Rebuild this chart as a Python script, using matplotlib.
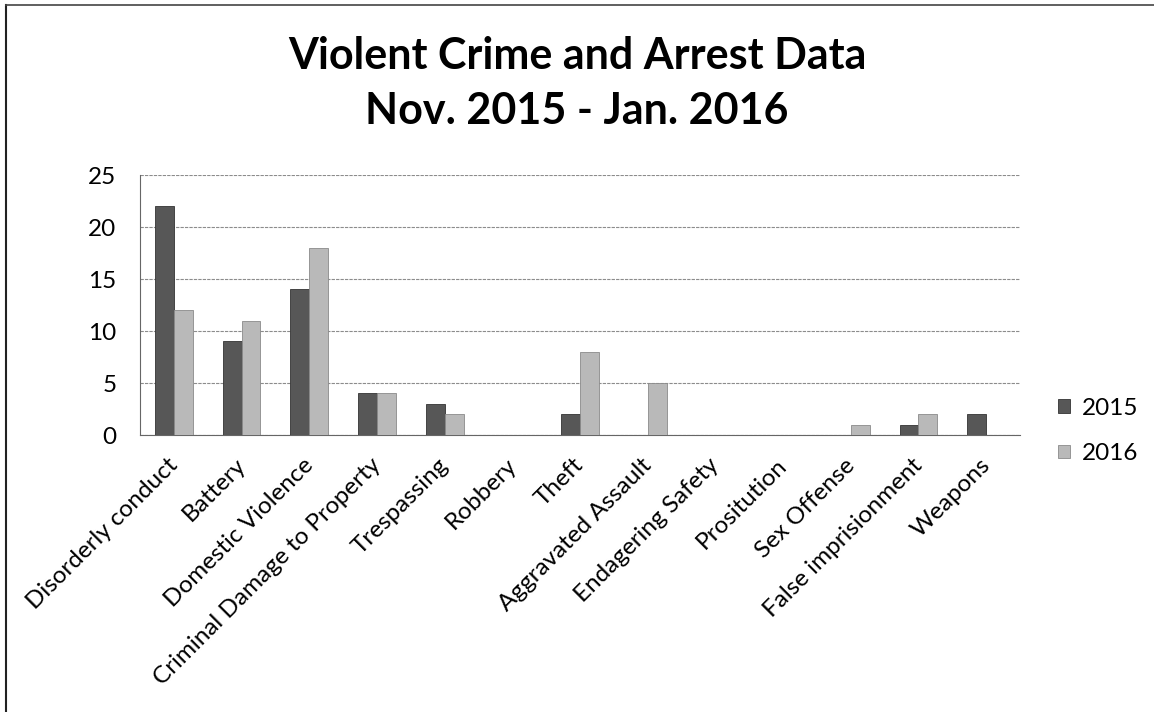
import matplotlib.pyplot as plt
from matplotlib.lines import Line2D
import matplotlib.transforms as mtransforms
import numpy as np

plt.rcParams['font.family'] = ['Lato', 'DejaVu Sans']

categories = ['Disorderly conduct', 'Battery', 'Domestic Violence',
              'Criminal Damage to Property', 'Trespassing', 'Robbery', 'Theft',
              'Aggravated Assault', 'Endagering Safety', 'Prositution',
              'Sex Offense', 'False imprisionment', 'Weapons']
vals_2015 = [22, 9, 14, 4, 3, 0, 2, 0, 0, 0, 0, 1, 2]
vals_2016 = [12, 11, 18, 4, 2, 0, 8, 5, 0, 0, 1, 2, 0]
yticks = [0, 5, 10, 15, 20, 25]

fig = plt.figure(figsize=(11.54, 7.12), dpi=100)
ax = fig.add_axes([140/1154, 1 - 435/712, 880/1154, 260/712])

x = np.arange(len(categories))
w = 0.28
ax.bar(x - w/2, vals_2015, w, color='#575757', edgecolor='#333333', linewidth=0.6, label='2015', zorder=3)
ax.bar(x + w/2, vals_2016, w, color='#b9b9b9', edgecolor='#8a8a8a', linewidth=0.6, label='2016', zorder=3)

ax.set_xlim(-0.5, len(categories) - 0.5)
ax.set_ylim(0, 25)
ax.set_yticks(yticks)
ax.yaxis.grid(True, color='#8c8c8c', linewidth=0.8, linestyle=(0, (3, 1)))
ax.set_axisbelow(True)
for s in ['top', 'right']:
    ax.spines[s].set_visible(False)
ax.spines['left'].set_color('#666666')
ax.spines['bottom'].set_color('#666666')
ax.tick_params(axis='both', length=0)
ax.tick_params(axis='y', pad=17, labelsize=17.5)
ax.set_xticks(x)
ax.set_xticklabels(categories, rotation=45, ha='right', rotation_mode='anchor', fontsize=17.5)
ax.tick_params(axis='x', pad=14)
shift = mtransforms.ScaledTranslation(-7/100, 0, fig.dpi_scale_trans)
for lbl in ax.get_xticklabels():
    lbl.set_transform(lbl.get_transform() + shift)

fig.text(0.5, 1 - 36/712, 'Violent Crime and Arrest Data\nNov. 2015 - Jan. 2016',
         fontsize=31, fontweight='bold', ha='center', va='top', linespacing=1.45)

fig.legend(loc='center left', bbox_to_anchor=(1058/1154, 1 - 431/712), frameon=False,
           fontsize=17.5, handlelength=0.5, handleheight=0.5, handletextpad=0.5,
           labelspacing=1.0, borderpad=0, borderaxespad=0)

# outer border (left and top edges visible in the scan)
fig.add_artist(Line2D([6/1154, 6/1154], [0, 1 - 5/712], color='#222222', linewidth=1.5))
fig.add_artist(Line2D([6/1154, 1], [1 - 5/712, 1 - 5/712], color='#444444', linewidth=1.2))

fig.savefig('out.png', dpi=100)
